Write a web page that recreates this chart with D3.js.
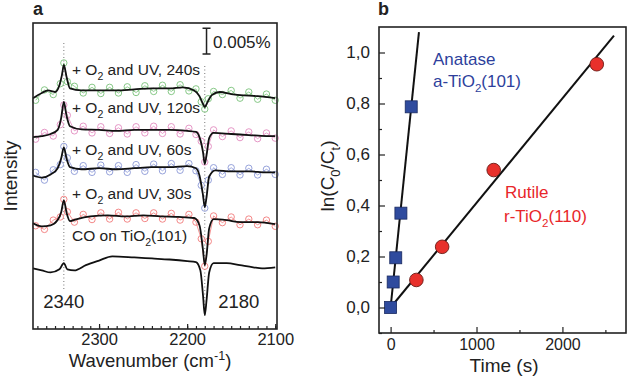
<!DOCTYPE html>
<html>
<head>
<meta charset="utf-8">
<script src="https://cdn.jsdelivr.net/npm/d3@7"></script>
<style>
  body { margin: 0; background: #fff; }
  text { font-family: "Liberation Sans", Arial, sans-serif; fill: #222; }
</style>
</head>
<body>
<svg width="631" height="380"></svg>
<script>
// ---------- panel a data (intensity in units of 0.001 %, relative to each baseline) ----------
var spectraOffsets = [11.9, 20.4, 30.2, 37.2, 44.7];   // CO, 30s, 60s, 120s, 240s
var guideWn = [2340, 2180];

var smoothCO = [[2375,-0.2],[2365,-0.6],[2355,-1.0],[2345,-0.4],[2340,0.8],[2336,-0.4],[2328,-0.6],[2315,0.4],
  [2300,1.3],[2285,2.1],[2260,1.9],[2240,1.7],[2220,1.5],[2200,1.2],[2190,1.0],[2185,-0.6],[2182,-5.4],
  [2180,-9.2],[2178,-6.4],[2175,-1.0],[2170,0.8],[2155,0.8],[2140,0.4],[2125,0.0],[2115,-0.2],[2100,0.0]];
var smooth30 = [[2375,0.0],[2365,-0.6],[2355,-0.4],[2347,0.6],[2343,2.1],[2340,4.4],[2337,2.1],[2333,0.4],
  [2325,0.8],[2310,1.3],[2290,1.5],[2270,1.3],[2250,1.5],[2230,1.3],[2210,1.2],[2192,1.0],[2186,-0.4],
  [2182,-5.2],[2180,-8.1],[2178,-6.2],[2175,-1.0],[2170,0.8],[2155,0.6],[2140,0.2],[2120,0.2],[2100,-0.2]];
var smooth60 = [[2375,-0.6],[2365,-1.0],[2355,-0.4],[2347,0.8],[2343,2.7],[2340,4.8],[2337,2.7],[2333,1.0],
  [2320,0.6],[2300,0.8],[2280,0.6],[2260,0.8],[2240,1.0],[2220,1.0],[2200,1.2],[2190,0.8],[2186,-0.6],
  [2182,-4.4],[2180,-6.7],[2178,-4.8],[2175,-0.8],[2168,0.4],[2150,0.2],[2130,0.2],[2110,0.0],[2100,0.0]];
var smooth120 = [[2375,-0.2],[2365,0.0],[2355,0.4],[2347,1.2],[2343,3.5],[2340,6.6],[2337,4.0],[2333,1.9],
  [2320,1.3],[2300,1.2],[2280,1.0],[2260,1.2],[2240,1.2],[2220,1.2],[2200,1.0],[2190,0.8],[2186,-0.2],
  [2182,-3.1],[2180,-5.4],[2178,-3.7],[2175,-0.4],[2170,0.6],[2150,0.4],[2130,0.2],[2110,0.0],[2100,0.0]];
var smooth240 = [[2375,-0.2],[2365,0.8],[2358,1.3],[2350,1.0],[2345,2.3],[2342,4.4],[2340,6.2],[2337,4.0],
  [2333,1.7],[2320,1.3],[2300,1.3],[2280,1.3],[2260,1.5],[2240,1.7],[2220,1.7],[2205,1.9],[2192,1.3],
  [2186,0.2],[2182,-1.3],[2180,-1.9],[2177,-1.0],[2172,0.4],[2163,1.0],[2150,0.6],[2140,0.4],[2120,0.2],[2100,-0.2]];

var rawWn = [2372,2362,2352,2344,2340,2336,2328,2318,2308,2298,2288,2278,2268,2258,2248,2238,
  2228,2218,2208,2198,2190,2184,2180,2176,2170,2160,2150,2140,2130,2120,2110,2100];
var raw30 = [-0.5,-1.2,0.6,1.2,4.6,2.2,0.2,1.7,0.7,2.0,0.8,2.1,0.8,2.0,0.9,2.0,
  0.8,1.9,0.6,1.7,0.2,-3.0,-8.3,-3.5,1.4,0.1,1.2,-0.3,0.8,-0.3,0.6,-0.6];
var raw60 = [0.0,-1.5,0.5,1.5,5.0,2.8,0.2,1.3,0.0,1.4,0.1,1.3,0.0,1.5,0.2,1.6,
  0.3,1.7,0.4,1.7,0.3,-2.5,-6.9,-1.5,0.9,-0.4,0.9,-0.5,0.8,-0.5,0.6,-0.4];
var raw120 = [-0.6,0.7,0.0,2.2,6.0,4.0,1.0,1.9,0.6,1.8,0.5,1.6,0.4,1.8,0.6,1.9,
  0.5,1.8,0.4,1.5,0.3,-1.0,-5.0,-2.0,1.2,-0.1,1.0,-0.3,0.8,-0.5,0.6,-0.4];
var raw240 = [-0.6,1.4,0.5,2.6,6.6,3.0,2.1,0.8,1.9,0.7,1.9,0.8,2.0,0.9,2.2,1.1,
  2.3,1.1,2.4,1.2,1.6,-0.9,-2.3,-0.3,1.1,0.5,1.3,-0.2,1.0,-0.4,0.6,-0.6];
var rawColors = ["#f27a7a", "#8a97d6", "#e28bbf", "#79c279"];

var xTicksA = [2300, 2200, 2100];

// ---------- panel b data ----------
var anataseTime = [0, 30, 60, 120, 240];
var anataseVal  = [0, 0.10, 0.195, 0.37, 0.787];
var rutileTime  = [300, 600, 1200, 2400];
var rutileVal   = [0.108, 0.238, 0.539, 0.954];
var anataseFit  = [[0, 0], [330, 1.08]];
var rutileFit   = [[0, 0], [2600, 1.066]];
var yTicksB = [0, 0.2, 0.4, 0.6, 0.8, 1.0];
var xTicksB = [0, 1000, 2000];

var svg = d3.select("svg");

// rich text with sub/superscripts: segs = [[text, 0|1(sub)|-1(sup)], ...]
function richText(g, x, y, segs, size, color, anchor, rotate) {
  var t = g.append("text").attr("font-size", size).attr("text-anchor", anchor || "start");
  if (rotate) t.attr("transform", "translate(" + x + "," + y + ") rotate(-90)");
  else t.attr("x", x).attr("y", y);
  if (color) t.style("fill", color);
  var shift = 0;
  segs.forEach(function(s) {
    var want = s[1] === 1 ? size * 0.3 : (s[1] === -1 ? -size * 0.4 : 0);
    t.append("tspan").text(s[0])
      .attr("dy", want - shift)
      .attr("font-size", s[1] ? size * 0.68 : size);
    shift = want;
  });
  return t;
}

// ================= PANEL A =================
var xA = d3.scaleLinear().domain([2375, 2098]).range([33, 277]);
var yA = d3.scaleLinear().domain([0, 59]).range([329, 23]);
var gA = svg.append("g");

gA.selectAll(".guide").data(guideWn).enter().append("line")
  .attr("x1", function(d) { return xA(d); })
  .attr("x2", function(d) { return xA(d); })
  .attr("y1", function(d, i) { return i == 0 ? 43 : 66; })
  .attr("y2", function(d, i) { return i == 0 ? 290 : 318; })
  .attr("stroke", "#777").attr("stroke-width", 1).attr("stroke-dasharray", "1,2.5");

var rawSets = [raw30, raw60, raw120, raw240];
rawSets.forEach(function(vals, k) {
  var off = spectraOffsets[k + 1];
  var pts = rawWn.map(function(w, i) { return [w, vals[i]]; });
  gA.append("path").datum(pts)
    .attr("fill", "none").attr("stroke", rawColors[k]).attr("stroke-width", 0.8)
    .attr("d", d3.line().x(function(d) { return xA(d[0]); }).y(function(d) { return yA(off + d[1]); }));
  gA.selectAll(".raw" + k).data(pts).enter().append("circle")
    .attr("cx", function(d) { return xA(d[0]); })
    .attr("cy", function(d) { return yA(off + d[1]); })
    .attr("r", 3.2).attr("fill", "none").attr("stroke", rawColors[k]).attr("stroke-width", 0.9);
});

var smoothSets = [smoothCO, smooth30, smooth60, smooth120, smooth240];
smoothSets.forEach(function(pts, k) {
  var off = spectraOffsets[k];
  gA.append("path").datum(pts)
    .attr("fill", "none").attr("stroke", "#111").attr("stroke-width", 1.8)
    .attr("d", d3.line().curve(d3.curveMonotoneX)
      .x(function(d) { return xA(d[0]); }).y(function(d) { return yA(off + d[1]); }));
});

// frame
gA.append("rect").attr("x", 33).attr("y", 23).attr("width", 244).attr("height", 306)
  .attr("fill", "none").attr("stroke", "#222").attr("stroke-width", 1.6);

// bottom axis, inward ticks
var axA = gA.append("g").attr("transform", "translate(0,329)")
  .call(d3.axisBottom(xA).tickValues(xTicksA).tickSize(-5).tickPadding(4.6).tickFormat(d3.format("d")));
var axAm = gA.append("g").attr("transform", "translate(0,329)")
  .call(d3.axisBottom(xA).tickValues(d3.range(2370, 2099, -10)).tickSize(-3).tickFormat(""));
[axA, axAm].forEach(function(a) {
  a.select(".domain").remove();
  a.selectAll("line").attr("stroke", "#222").attr("stroke-width", 1.2);
});
axA.selectAll("text").attr("font-size", 16.5).style("font-family", "Liberation Sans, Arial, sans-serif").style("fill", "#222");

// scale bar
var barWn = 2178;
gA.append("path")
  .attr("d", "M" + (xA(barWn) - 4) + "," + yA(58) + "H" + (xA(barWn) + 4) +
             "M" + xA(barWn) + "," + yA(58) + "V" + yA(53) +
             "M" + (xA(barWn) - 4) + "," + yA(53) + "H" + (xA(barWn) + 4))
  .attr("stroke", "#222").attr("stroke-width", 1.5).attr("fill", "none");
gA.append("text").attr("x", 213).attr("y", 48).attr("font-size", 17).text("0.005%");

// labels
var labelY = [241, 199, 155, 113, 75];
var labelTimes = ["30s", "60s", "120s", "240s"];
richText(gA, 72, labelY[0], [["CO on TiO", 0], ["2", 1], ["(101)", 0]], 15.5);
labelTimes.forEach(function(t, i) {
  richText(gA, 72, labelY[i + 1], [["+ O", 0], ["2", 1], [" and UV, " + t, 0]], 15.5);
});
gA.append("text").attr("x", xA(2340)).attr("y", 308).attr("text-anchor", "middle").attr("font-size", 18.5).text("2340");
gA.append("text").attr("x", xA(2180) + 34).attr("y", 308).attr("text-anchor", "middle").attr("font-size", 18.5).text("2180");

richText(gA, 150, 367, [["Wavenumber (cm", 0], ["-1", -1], [")", 0]], 18.5, null, "middle");
richText(gA, 17, 176, [["Intensity", 0]], 19, null, "middle", true);
gA.append("text").attr("x", 33).attr("y", 15).attr("font-size", 18).attr("font-weight", "bold").text("a");

// ================= PANEL B =================
var xB = d3.scaleLinear().domain([-135, 2740]).range([379, 626]);
var yB = d3.scaleLinear().domain([-0.1, 1.1]).range([333, 27]);
var gB = svg.append("g");

var fitLine = d3.line().x(function(d) { return xB(d[0]); }).y(function(d) { return yB(d[1]); });
[anataseFit, rutileFit].forEach(function(f) {
  gB.append("path").datum(f).attr("d", fitLine)
    .attr("stroke", "#111").attr("stroke-width", 2).attr("fill", "none");
});

var sq = 12;
gB.selectAll(".sq").data(anataseTime).enter().append("rect")
  .attr("x", function(d) { return xB(d) - sq / 2; })
  .attr("y", function(d, i) { return yB(anataseVal[i]) - sq / 2; })
  .attr("width", sq).attr("height", sq)
  .attr("fill", "#2f4b9e").attr("stroke", "#1a2a60").attr("stroke-width", 0.8);

gB.selectAll(".ci").data(rutileTime).enter().append("circle")
  .attr("cx", function(d) { return xB(d); })
  .attr("cy", function(d, i) { return yB(rutileVal[i]); })
  .attr("r", 6.8)
  .attr("fill", "#e8302b").attr("stroke", "#6a1a14").attr("stroke-width", 0.9);

gB.append("rect").attr("x", 379).attr("y", 27).attr("width", 247).attr("height", 306)
  .attr("fill", "none").attr("stroke", "#222").attr("stroke-width", 1.6);

var commaFmt = function(d) { return d3.format(".1f")(d).replace(".", ","); };
var ayB = gB.append("g").attr("transform", "translate(379,0)")
  .call(d3.axisLeft(yB).tickValues(yTicksB).tickSize(-6).tickPadding(9).tickFormat(commaFmt));
var ayBm = gB.append("g").attr("transform", "translate(379,0)")
  .call(d3.axisLeft(yB).tickValues([-0.1, 0.1, 0.3, 0.5, 0.7, 0.9]).tickSize(-3).tickFormat(""));
var axB = gB.append("g").attr("transform", "translate(0,333)")
  .call(d3.axisBottom(xB).tickValues(xTicksB).tickSize(-6).tickPadding(5.5).tickFormat(d3.format("d")));
var axBm = gB.append("g").attr("transform", "translate(0,333)")
  .call(d3.axisBottom(xB).tickValues([500, 1500, 2500]).tickSize(-3).tickFormat(""));
[ayB, ayBm, axB, axBm].forEach(function(a) {
  a.select(".domain").remove();
  a.selectAll("line").attr("stroke", "#222").attr("stroke-width", 1.2);
  a.selectAll("text").style("font-family", "Liberation Sans, Arial, sans-serif").style("fill", "#222");
});
ayB.selectAll("text").attr("font-size", 17);
axB.selectAll("text").attr("font-size", 16);

richText(gB, 433, 65, [["Anatase", 0]], 17, "#2e3f9c");
richText(gB, 433, 87, [["a-TiO", 0], ["2", 1], ["(101)", 0]], 17, "#2e3f9c");
richText(gB, 505, 198, [["Rutile", 0]], 17, "#e8262a");
richText(gB, 504, 222, [["r-TiO", 0], ["2", 1], ["(110)", 0]], 17, "#e8262a");

richText(gB, 504, 372, [["Time (s)", 0]], 19, null, "middle");
richText(gB, 334, 176, [["ln(C", 0], ["0", 1], ["/C", 0], ["t", 1], [")", 0]], 19, null, "middle", true);
gB.append("text").attr("x", 378).attr("y", 15).attr("font-size", 18).attr("font-weight", "bold").text("b");
</script>
</body>
</html>
